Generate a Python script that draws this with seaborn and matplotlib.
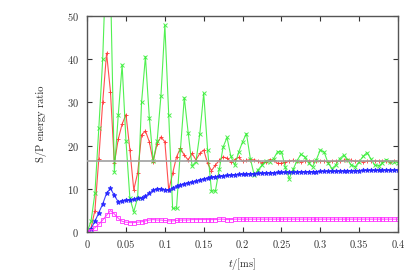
import numpy as np
import matplotlib
matplotlib.use("Agg")
import matplotlib.pyplot as plt
import seaborn as sns

# time grid [ms]
t = np.round(np.arange(0, 0.4001, 0.005), 3)

# S/P energy ratio
red = [0, 1, 5, 17, 30, 41.4, 32.5, 15.9, 21.5, 25,
       27.2, 19, 9.8, 13.7, 22.5, 23.4, 20.9, 16.3, 20.5, 22,
       20.9, 9.7, 13.6, 17.4, 19.4, 17.8, 16.7, 18.2, 16.7, 18.2,
       19, 15.9, 14.2, 15.5, 16.6, 17.4, 17.1, 16.3, 16.8, 17.3,
       16.4, 16.6, 16.8, 16.7, 16.5, 16.0, 16.3, 16.8, 16.6, 15.9,
       15.9, 16.2, 16.5, 16.6, 16.4, 16.3, 16.4, 16.5, 16.4, 16.4,
       16.5, 16.4, 16.3, 16.4, 16.4, 16.5, 16.6, 16.8, 16.6, 16.4,
       16.4, 16.3, 16.4, 16.4, 16.5, 16.4, 16.4, 16.4, 16.3, 16.4,
       16.4]

green = [0, 2.5, 9, 24, 40, 66, 58, 14, 27, 38.7,
         21, 7.8, 4.7, 8, 30, 40.6, 26.5, 16.5, 21, 31.6,
         47.9, 27, 5.5, 5.5, 19, 31.1, 23, 15.3, 16.3, 22.8,
         32.1, 19, 9.5, 9.5, 14.5, 19.7, 21.9, 17.5, 15.5, 18.5,
         20.9, 22.8, 17, 13.2, 14.4, 15.5, 16.5, 16.3, 17, 18.6,
         18.6, 15, 12.4, 14.5, 16.5, 18, 17.4, 16, 15.1, 16.8,
         19, 18.5, 16, 14.7, 15.5, 17, 17.8, 16.8, 15.5, 15.1,
         16.3, 17.5, 18.4, 17, 15.5, 15.3, 16, 16.8, 16.3, 16.3,
         16.1]

blue = [0, 0.8, 2.5, 4.5, 6.5, 9, 10.1, 8.5, 7, 7.3,
        7.4, 7.5, 7.6, 7.8, 7.9, 8.3, 9, 9.7, 10, 10,
        9.8, 9.8, 10.2, 10.6, 10.9, 11.2, 11.4, 11.6, 11.8, 12.1,
        12.3, 12.5, 12.7, 12.8, 12.9, 13.0, 13.1, 13.2, 13.3, 13.35,
        13.4, 13.45, 13.5, 13.55, 13.6, 13.65, 13.7, 13.72, 13.75, 13.8,
        13.82, 13.85, 13.88, 13.9, 13.92, 13.95, 13.97, 14.0, 14.0, 14.02,
        14.05, 14.07, 14.1, 14.1, 14.12, 14.15, 14.17, 14.2, 14.2, 14.22,
        14.25, 14.27, 14.28, 14.3, 14.3, 14.32, 14.34, 14.35, 14.36, 14.38,
        14.4]

magenta = [0, 0.3, 1, 1.8, 2.8, 3.9, 5.0, 4.2, 3.2, 2.5,
           2.3, 2.2, 2.2, 2.3, 2.4, 2.6, 2.8, 2.9, 2.8, 2.8,
           2.7, 2.6, 2.6, 2.7, 2.8, 2.8, 2.8, 2.9, 2.9, 2.9,
           2.9, 2.9, 2.9, 2.9, 3.0, 3.0, 2.9, 2.9, 3.0, 3.0,
           3.0, 3.0, 3.0, 3.0, 3.0, 3.0, 3.0, 3.0, 3.0, 3.0,
           3.0, 3.0, 3.0, 3.0, 3.0, 3.0, 3.0, 3.0, 3.0, 3.0,
           3.0, 3.0, 3.0, 3.0, 3.0, 3.0, 3.0, 3.0, 3.0, 3.0,
           3.0, 3.0, 3.0, 3.0, 3.0, 3.0, 3.0, 3.0, 3.0, 3.0,
           3.0]

reference_level = 16.4

xticks = [0, 0.05, 0.1, 0.15, 0.2, 0.25, 0.3, 0.35, 0.4]
xtick_labels = ["0", "0.05", "0.1", "0.15", "0.2", "0.25", "0.3", "0.35", "0.4"]
yticks = [0, 10, 20, 30, 40, 50]

sns.set_style("ticks")
plt.rcParams["font.family"] = ["cmr10", "DejaVu Serif"]
plt.rcParams["mathtext.fontset"] = "cm"
plt.rcParams["axes.formatter.use_mathtext"] = True

fig = plt.figure(figsize=(4.15, 2.76), dpi=100)
ax = fig.add_axes([0.21, 0.159, 0.749, 0.783])

series = [
    (red, "#ff3030", "+", 3.5),
    (green, "#33ee33", "x", 3.0),
    (blue, "#2020ff", "*", 3.5),
    (magenta, "#ff30ff", "s", 2.6),
]
for vals, col, mk, ms in series:
    sns.lineplot(x=t, y=vals, ax=ax, color=col, marker=mk, markersize=ms,
                 linewidth=0.8, markeredgewidth=0.7,
                 markerfacecolor="none" if mk == "s" else col,
                 markeredgecolor=col, alpha=0.85)

ax.axhline(reference_level, color="#a0a0a0", linewidth=1.2, zorder=5)

ax.set_xlim(0, 0.4)
ax.set_ylim(0, 50)
ax.set_xticks(xticks)
ax.set_xticklabels(xtick_labels)
ax.set_yticks(yticks)
ax.tick_params(direction="in", length=3.5, width=0.8, labelsize=7.5,
               top=True, right=True, pad=6, colors="#333333")
for s in ax.spines.values():
    s.set_color("#555555")
    s.set_linewidth(1.0)

ax.set_xlabel(r"$t$/[ms]", fontsize=7.5)
ax.set_ylabel("S/P energy ratio", fontsize=7.5, labelpad=14)

fig.savefig("out.png", dpi=100)
